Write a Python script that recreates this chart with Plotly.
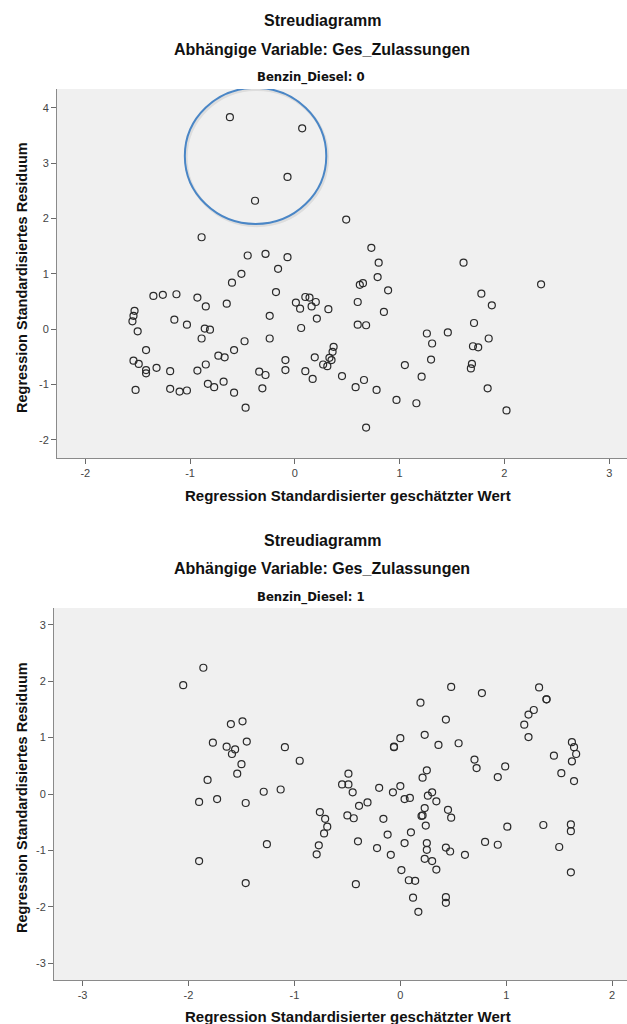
import plotly.graph_objects as go

# Benzin_Diesel = 0 : standardized predicted value vs standardized residual
pred_0 = [-0.62, 0.07, -0.07, -0.38, 0.49, -0.89, -0.45, -0.28, -0.07, -0.16,
          -0.51, -0.60, 0.73, 0.80, 1.61, 0.79, -0.18, -1.35, -1.26, -1.13,
          -0.93, -0.85, -0.65, -1.53, -1.54, -1.55, -1.50, -1.15, -1.03, -0.86,
          -0.81, -0.89, -0.48, -0.58, -0.24, -0.24, 0.01, 0.05, 0.10, 0.14,
          0.20, 0.16, 0.32, 0.21, 0.06, -1.42, -1.54, -1.49, -1.42, -1.42,
          -1.32, -1.19, -0.93, -0.85, -0.73, -0.67, -0.83, -0.77, -0.68, -0.58,
          -0.47, -0.31, -0.34, -0.28, -0.09, -0.09, 0.10, 0.17, 0.19, 0.27,
          0.31, 0.33, 0.35, 0.36, 0.37, 0.45, -1.52, -1.19, -1.10, -1.03,
          2.35, 0.62, 0.65, 0.89, 0.60, 0.85, 0.60, 0.68, 1.78, 1.88,
          1.26, 1.46, 1.71, 1.31, 1.70, 1.75, 1.85, 1.30, 1.05, 1.21,
          1.69, 1.68, 0.58, 0.66, 0.78, 0.97, 1.16, 1.84, 2.02, 0.68]
resid_0 = [3.83, 3.63, 2.75, 2.32, 1.98, 1.66, 1.33, 1.36, 1.30, 1.09,
           1.00, 0.84, 1.47, 1.20, 1.20, 0.94, 0.67, 0.60, 0.62, 0.63,
           0.57, 0.41, 0.46, 0.33, 0.24, 0.14, -0.04, 0.17, 0.08, 0.01,
           -0.01, -0.17, -0.22, -0.38, 0.24, -0.17, 0.48, 0.37, 0.58, 0.57,
           0.49, 0.41, 0.36, 0.19, 0.02, -0.38, -0.57, -0.63, -0.74, -0.80,
           -0.70, -0.76, -0.75, -0.64, -0.48, -0.51, -0.99, -1.05, -0.95, -1.15,
           -1.42, -1.07, -0.77, -0.83, -0.56, -0.74, -0.76, -0.90, -0.51, -0.64,
           -0.67, -0.52, -0.56, -0.41, -0.32, -0.85, -1.10, -1.08, -1.13, -1.11,
           0.81, 0.80, 0.83, 0.70, 0.49, 0.31, 0.08, 0.07, 0.64, 0.43,
           -0.08, -0.06, 0.11, -0.26, -0.31, -0.33, -0.17, -0.55, -0.65, -0.86,
           -0.63, -0.71, -1.05, -0.92, -1.10, -1.28, -1.34, -1.07, -1.47, -1.78]

# Benzin_Diesel = 1
pred_1 = [-1.86, -2.05, -1.60, -1.49, -1.77, -1.64, -1.56, -1.59, -1.45, -1.50,
          -1.54, -1.09, -0.95, -1.82, -1.29, -1.13, -1.90, -1.73, -1.46, -0.49,
          -0.55, -0.49, -0.76, -0.71, -0.50, -0.69, -0.72, -0.77, -0.79, -1.26,
          -1.90, -1.46, 0.48, 0.77, 1.31, 1.38, 1.38, 0.19, 0.43, 1.26,
          1.21, 1.17, 1.21, 0.00, -0.06, -0.06, 0.23, 0.36, 0.55, 0.70,
          0.72, 0.99, 0.92, 1.45, 1.52, 1.62, 1.64, 1.66, 1.62, 1.64,
          -0.45, -0.39, -0.31, -0.20, -0.07, 0.00, 0.04, 0.09, 0.25, 0.21,
          0.30, 0.26, 0.34, 0.23, 0.20, 0.21, 0.45, 0.48, -0.44, -0.16,
          0.24, -0.12, -0.40, -0.22, -0.09, 0.04, 0.10, 0.25, 0.25, 0.23,
          0.30, 0.34, 0.43, 0.47, 0.61, 0.01, 0.08, 0.14, 0.12, 0.17,
          0.43, 0.43, -0.42, 0.80, 0.92, 1.01, 1.35, 1.61, 1.61, 1.50, 1.61]
resid_1 = [2.24, 1.93, 1.24, 1.29, 0.91, 0.84, 0.79, 0.71, 0.93, 0.53,
           0.36, 0.83, 0.59, 0.25, 0.04, 0.08, -0.14, -0.09, -0.16, 0.36,
           0.17, 0.17, -0.32, -0.44, -0.38, -0.58, -0.70, -0.91, -1.07, -0.89,
           -1.19, -1.58, 1.90, 1.79, 1.89, 1.68, 1.68, 1.62, 1.32, 1.49,
           1.41, 1.23, 1.01, 0.99, 0.83, 0.84, 1.05, 0.87, 0.90, 0.61,
           0.46, 0.49, 0.30, 0.68, 0.37, 0.92, 0.83, 0.71, 0.58, 0.23,
           0.03, -0.21, -0.15, 0.11, 0.03, 0.14, -0.09, -0.07, 0.42, 0.29,
           0.03, -0.03, -0.13, -0.25, -0.39, -0.38, -0.28, -0.42, -0.43, -0.44,
           -0.56, -0.72, -0.84, -0.96, -1.08, -0.87, -0.68, -0.87, -0.99, -1.15,
           -1.19, -1.34, -0.95, -1.02, -1.08, -1.35, -1.53, -1.54, -1.84, -2.09,
           -1.83, -1.93, -1.60, -0.85, -0.90, -0.58, -0.55, -0.54, -0.66, -0.94, -1.39]

ticks_x0 = [-2, -1, 0, 1, 2, 3]
ticks_y0 = [-2, -1, 0, 1, 2, 3, 4]
ticks_x1 = [-3, -2, -1, 0, 1, 2]
ticks_y1 = [-3, -2, -1, 0, 1, 2, 3]

def labels(vals):
    return [str(v) for v in vals]

TITLE = "Streudiagramm"
SUBTITLE = "Abhängige Variable: Ges_Zulassungen"
PANELS = ["Benzin_Diesel: 0", "Benzin_Diesel: 1"]
X_TITLE = "Regression Standardisierter geschätzter Wert"
Y_TITLE = "Regression Standardisiertes Residuum"

# highlighted group of large residuals (Benzin_Diesel: 0)
HIGHLIGHT = dict(x0=-1.05, x1=0.30, y0=1.90, y1=4.36)

W, H = 627, 1024
FONT = "Liberation Sans, Arial, sans-serif"
NARROW = "Liberation Sans Narrow, Arial Narrow, DejaVu Sans Condensed, sans-serif"

fig = go.Figure()
marker = dict(symbol="circle-open", size=7, color="#2a2a2a", line=dict(width=1.2, color="#2a2a2a"))
fig.add_trace(go.Scatter(x=pred_0, y=resid_0, mode="markers", marker=marker,
                         xaxis="x", yaxis="y", showlegend=False, cliponaxis=False))
fig.add_trace(go.Scatter(x=pred_1, y=resid_1, mode="markers", marker=marker,
                         xaxis="x2", yaxis="y2", showlegend=False, cliponaxis=False))

axis_common = dict(showgrid=False, zeroline=False, showline=True, linecolor="#8a8a8a",
                   linewidth=1, ticks="outside", ticklen=5, tickcolor="#6a6a6a",
                   tickfont=dict(family=FONT, size=11, color="#444444"), mirror=False)

fig.update_layout(
    width=W, height=H, margin=dict(l=0, r=0, t=0, b=0),
    paper_bgcolor="white", plot_bgcolor="#f0f0f0",
    xaxis=dict(axis_common, domain=[57 / W, 1.0], range=[-2.27, 3.17],
               tickvals=ticks_x0, ticktext=labels(ticks_x0), anchor="y"),
    yaxis=dict(axis_common, domain=[1 - 458 / H, 1 - 89 / H], range=[-2.33, 4.34],
               tickvals=ticks_y0, ticktext=labels(ticks_y0), anchor="x"),
    xaxis2=dict(axis_common, domain=[54 / W, 1.0], range=[-3.27, 2.14],
                tickvals=ticks_x1, ticktext=labels(ticks_x1), anchor="y2"),
    yaxis2=dict(axis_common, domain=[1 - 980 / H, 1 - 608 / H], range=[-3.30, 3.30],
                tickvals=ticks_y1, ticktext=labels(ticks_y1), anchor="x2"),
)

# soft shadow and outline of the highlight ellipse
fig.add_shape(type="circle", xref="x", yref="y",
              x0=HIGHLIGHT["x0"] + 0.012, x1=HIGHLIGHT["x1"] + 0.012,
              y0=HIGHLIGHT["y0"] - 0.03, y1=HIGHLIGHT["y1"] - 0.03,
              line=dict(color="rgba(0,0,0,0.08)", width=3), layer="above")
fig.add_shape(type="circle", xref="x", yref="y", **HIGHLIGHT,
              line=dict(color="#4a86c6", width=2), layer="above")

def text(s, x, y, size, family=FONT, bold=False, angle=0):
    fig.add_annotation(text=f"<b>{s}</b>" if bold else s, x=x, y=y,
                       xref="paper", yref="paper", showarrow=False,
                       xanchor="center", yanchor="middle", textangle=angle,
                       font=dict(family=family, size=size, color="#111111"))

for (t1, t2, t3, xt, yt, yc), panel in zip(
        [(20, 49, 77, 495, 22, 278), (540, 568, 597, 1016, 22, 798)], PANELS):
    text(TITLE, 322 / W, 1 - t1 / H, 16, bold=True)
    text(SUBTITLE, 322 / W, 1 - t2 / H, 16, bold=True)
    text(panel, 311 / W, 1 - t3 / H, 13, family=NARROW, bold=True)
    text(X_TITLE, 348 / W, 1 - xt / H, 15, bold=True)
    text(Y_TITLE, yt / W, 1 - yc / H, 14.5, bold=True, angle=-90)

fig.write_html("out.html")
